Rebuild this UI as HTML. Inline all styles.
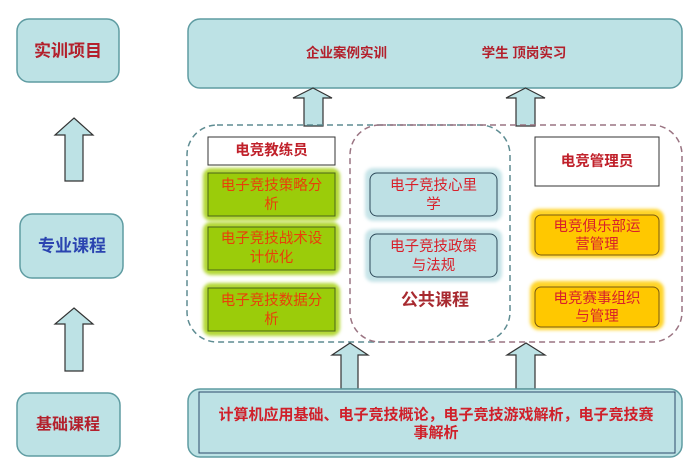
<!DOCTYPE html>
<html><head><meta charset="utf-8"><style>
html,body{margin:0;padding:0;background:#fff;width:699px;height:470px;overflow:hidden}
svg{display:block}
text{font-family:"Liberation Sans","Noto Sans CJK SC",sans-serif;text-anchor:middle;dominant-baseline:central}
.t{font-weight:bold;fill:#b3202c}
.g{fill:#e8400a;font-size:14.5px}
.r{fill:#d8202a;font-size:14.5px}
</style></head><body>
<svg width="699" height="470" viewBox="0 0 699 470" xmlns="http://www.w3.org/2000/svg">
<defs>
<filter id="bl" x="-10%" y="-20%" width="120%" height="140%"><feGaussianBlur stdDeviation="1.6"/></filter>
</defs>
<!-- left column -->
<rect x="17" y="19" width="102" height="63" rx="12" fill="#bde2e5" stroke="#5f9ca2" stroke-width="1.5"/>
<text x="68" y="51" class="t" style="font-size:17px">实训项目</text>
<rect x="20" y="214" width="103" height="64" rx="12" fill="#bde2e5" stroke="#5f9ca2" stroke-width="1.5"/>
<text x="72" y="246" style="font-size:17px;font-weight:bold;fill:#2a44b0">专业课程</text>
<rect x="17" y="393" width="103" height="63" rx="12" fill="#bde2e5" stroke="#5f9ca2" stroke-width="1.5"/>
<text x="68" y="425" class="t" style="font-size:16px">基础课程</text>
<polygon points="74,118 93,135 83,135 83,181 65,181 65,135 55,135" fill="#bde2e5" stroke="#333" stroke-width="1.2"/>
<polygon points="74,308 93,324 83,324 83,371 65,371 65,324 55,324" fill="#bde2e5" stroke="#333" stroke-width="1.2"/>

<!-- top box -->
<rect x="188" y="19" width="494" height="69" rx="12" fill="#bde2e5" stroke="#5f9ca2" stroke-width="1.5"/>
<text x="346.5" y="53" class="t" style="font-size:13.5px">企业案例实训</text>
<text x="524" y="53" class="t" style="font-size:13.5px">学生 顶岗实习</text>

<!-- arrows to top -->
<polygon points="313,88 332,98 323,98 323,126 304,126 304,98 293,98" fill="#bde2e5" stroke="#333" stroke-width="1.2"/>
<polygon points="525.5,88 545,98 535,98 535,126 516,126 516,98 506,98" fill="#bde2e5" stroke="#333" stroke-width="1.2"/>

<!-- dashed regions -->
<rect x="187" y="125" width="323" height="217" rx="30" fill="none" stroke="#5e8c92" stroke-width="1.5" stroke-dasharray="6,4"/>
<rect x="350" y="125" width="332" height="217" rx="30" fill="none" stroke="#9a7482" stroke-width="1.5" stroke-dasharray="6,4"/>

<!-- left inner -->
<rect x="208" y="137" width="127" height="28" fill="#fff" stroke="#333" stroke-width="1"/>
<text x="271.5" y="151" style="font-size:14.5px;fill:#c0202a;font-weight:bold">电竞教练员</text>

<rect x="203" y="168" width="137" height="53" rx="8" fill="#b4d838" filter="url(#bl)"/>
<rect x="208" y="173" width="127" height="43" fill="#9bcc0a" stroke="#4a6418" stroke-width="1"/>
<text x="271.5" y="186" class="g">电子竞技策略分</text>
<text x="271.5" y="205" class="g">析</text>

<rect x="203" y="222" width="137" height="53" rx="8" fill="#b4d838" filter="url(#bl)"/>
<rect x="208" y="227" width="127" height="43" fill="#9bcc0a" stroke="#4a6418" stroke-width="1"/>
<text x="271.5" y="239" class="g">电子竞技战术设</text>
<text x="271.5" y="258" class="g">计优化</text>

<rect x="203" y="283" width="137" height="53" rx="8" fill="#b4d838" filter="url(#bl)"/>
<rect x="208" y="288" width="127" height="43" fill="#9bcc0a" stroke="#4a6418" stroke-width="1"/>
<text x="271.5" y="301" class="g">电子竞技数据分</text>
<text x="271.5" y="320" class="g">析</text>

<!-- middle -->
<rect x="365" y="168" width="137" height="53" rx="8" fill="#c6e4e8" filter="url(#bl)"/>
<rect x="370" y="173" width="127" height="43" rx="7" fill="#bde0e4" stroke="#2d4a5a" stroke-width="1"/>
<text x="433.5" y="186" class="r">电子竞技心里</text>
<text x="433.5" y="205" class="r">学</text>

<rect x="365" y="229" width="137" height="53" rx="8" fill="#c6e4e8" filter="url(#bl)"/>
<rect x="370" y="234" width="127" height="43" rx="7" fill="#bde0e4" stroke="#2d4a5a" stroke-width="1"/>
<text x="433.5" y="247" class="r">电子竞技政策</text>
<text x="433.5" y="266" class="r">与法规</text>

<text x="435" y="300" class="t" style="font-size:17px;fill:#a82a30">公共课程</text>

<!-- right -->
<rect x="535" y="137" width="124" height="49" fill="#fff" stroke="#333" stroke-width="1"/>
<text x="597" y="162" style="font-size:14.5px;fill:#c0202a;font-weight:bold">电竞管理员</text>

<rect x="530" y="209" width="134" height="49" rx="9" fill="#ffd42a" filter="url(#bl)"/>
<rect x="535" y="215" width="124" height="40" rx="6" fill="#ffc800" stroke="#7a5a10" stroke-width="1"/>
<text x="597" y="227" class="r">电竞俱乐部运</text>
<text x="597" y="245" class="r">营管理</text>

<rect x="530" y="281" width="134" height="49" rx="9" fill="#ffd42a" filter="url(#bl)"/>
<rect x="535" y="287" width="124" height="40" rx="6" fill="#ffc800" stroke="#7a5a10" stroke-width="1"/>
<text x="597" y="299" class="r">电竞赛事组织</text>
<text x="597" y="317" class="r">与管理</text>

<!-- bottom arrows -->
<polygon points="350,343 368,355 358,355 358,389 341,389 341,355 332,355" fill="#bde2e5" stroke="#333" stroke-width="1.2"/>
<polygon points="526,343 545,355 535,355 535,389 516,389 516,355 507,355" fill="#bde2e5" stroke="#333" stroke-width="1.2"/>

<!-- bottom box -->
<rect x="188" y="389" width="494" height="68" rx="12" fill="#bde2e5" stroke="#5f9ca2" stroke-width="1.5"/>
<rect x="199" y="392" width="476" height="61" fill="none" stroke="#2d4a6a" stroke-width="1"/>
<text x="436" y="415" class="t" style="font-size:15px;fill:#d0202a">计算机应用基础、电子竞技概论，电子竞技游戏解析，电子竞技赛</text>
<text x="436" y="433" class="t" style="font-size:15px;fill:#d0202a">事解析</text>
</svg>
</body></html>
